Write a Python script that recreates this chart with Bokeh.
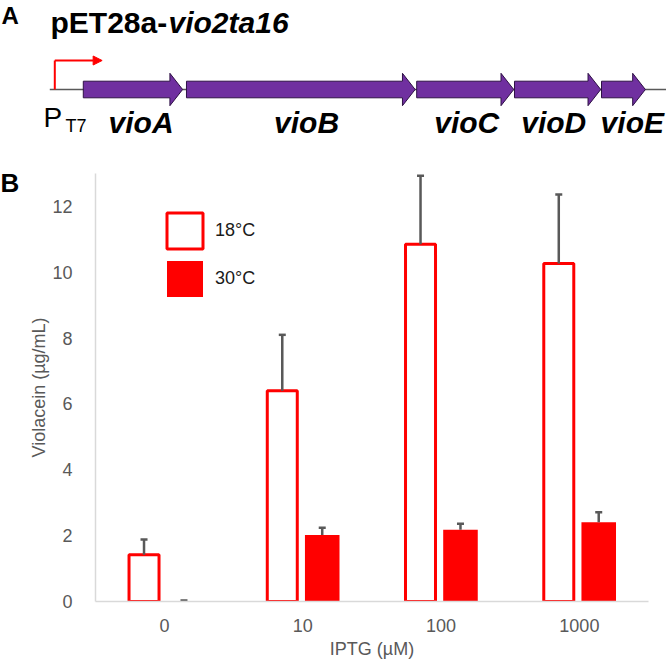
from bokeh.plotting import figure
from bokeh.models import (ColumnDataSource, FactorRange, Range1d, FixedTicker,
                          Label, Arrow, NormalHead)
from bokeh.transform import dodge
from bokeh.layouts import row
from bokeh.embed import file_html
from bokeh.resources import INLINE
from bokeh.core.properties import value

# ---------------- Panel A data (gene map, positions in kb) ----------------
genes = ["vioA", "vioB", "vioC", "vioD", "vioE"]
gene_start_kb = [0.37, 1.71, 4.70, 5.97, 7.10]
gene_end_kb = [1.66, 4.68, 5.96, 7.09, 7.67]
gene_label_kb = [1.12, 3.27, 5.35, 6.48, 7.50]
promoter_kb = 0.0
promoter_tip_kb = 0.615
track_start_kb = -0.065
plasmid_name = "pET28a-"
insert_name = "vio2ta16"
promoter_name = "P"
promoter_sub = "T7"

# ---------------- Panel B data ----------------
iptg = ["0", "10", "100", "1000"]
viol_18 = [1.42, 6.40, 10.85, 10.27]
err_18 = [0.46, 1.70, 2.08, 2.09]
viol_30 = [0.00, 2.02, 2.18, 2.41]
err_30 = [0.03, 0.22, 0.18, 0.30]
y_ticks = [0, 2, 4, 6, 8, 10, 12]
series_labels = ["18°C", "30°C"]

FONT = "Liberation Sans"
GRAY = "#595959"
RED = "#FF0000"
PURPLE = "#7030A0"

# ---------------- Panel A figure ----------------
WA, HA = 666, 160
PX_PER_KB = 77.0
PROM_PX = 54.3
TRACK_PX = 89
xa0 = -PROM_PX / PX_PER_KB
xa1 = (WA - PROM_PX) / PX_PER_KB

pa = figure(width=WA, height=HA, x_range=Range1d(xa0, xa1),
            y_range=Range1d(-(HA - TRACK_PX), TRACK_PX),
            output_backend="svg", toolbar_location=None, min_border=0,
            x_axis_location=None, y_axis_location=None,
            outline_line_color=None, background_fill_color="white")
pa.grid.visible = False

pa.line([track_start_kb, xa1], [0, 0], line_color=GRAY, line_width=1.5)

HEAD_KB = 0.165
BODY = 8.3
HEAD = 16.2
xs, ys = [], []
for s, e in zip(gene_start_kb, gene_end_kb):
    h = e - HEAD_KB
    xs.append([s, h, h, e, h, h, s])
    ys.append([BODY, BODY, HEAD, 0, -HEAD, -BODY, -BODY])
pa.patches(xs, ys, fill_color=PURPLE, line_color="#2E1145", line_width=1)

PROM_H = 29
pa.segment(x0=[promoter_kb], y0=[0], x1=[promoter_kb], y1=[PROM_H],
           line_color=RED, line_width=2)
pa.add_layout(Arrow(end=NormalHead(size=9, fill_color=RED, line_color=RED),
                    x_start=promoter_kb, y_start=PROM_H,
                    x_end=promoter_tip_kb, y_end=PROM_H,
                    line_color=RED, line_width=2))

pa.text(x=gene_label_kb, y=[-32.5] * len(genes), text=genes,
        text_font=value(FONT), text_font_style="bold italic",
        text_font_size="30px", text_align="center",
        text_baseline="middle", text_color="black")

pa.add_layout(Label(x=-0.147, y=-28, text=promoter_name, text_font=FONT,
                    text_font_size="28px", text_baseline="middle",
                    text_color="black"))
pa.add_layout(Label(x=0.139, y=-36.7, text=promoter_sub, text_font=FONT,
                    text_font_size="18px", text_baseline="middle",
                    text_color="black"))

pa.add_layout(Label(x=1, y=74, x_units="screen", text="A", text_font=FONT,
                    text_font_size="24px", text_font_style="bold",
                    text_baseline="middle", text_color="black"))
pa.add_layout(Label(x=-0.056, y=67.5, text=plasmid_name, text_font=FONT,
                    text_font_size="30px", text_font_style="bold",
                    text_baseline="middle", text_color="black"))
pa.add_layout(Label(x=1.477, y=67.5, text=insert_name, text_font=FONT,
                    text_font_size="30px", text_font_style="bold italic",
                    text_baseline="middle", text_color="black"))

# ---------------- Panel B figure ----------------
src = ColumnDataSource(dict(
    iptg=iptg,
    v18=viol_18, t18=[v + e for v, e in zip(viol_18, err_18)],
    v30=viol_30, t30=[v + e for v, e in zip(viol_30, err_30)],
))

HB = 501
WL = 22
y_range_b = Range1d(0, 13)

pbl = figure(width=WL, height=HB, x_range=Range1d(0, 1), y_range=y_range_b,
             output_backend="svg", toolbar_location=None,
             min_border_left=0, min_border_right=0,
             min_border_top=13, min_border_bottom=59,
             x_axis_location=None, y_axis_location=None,
             outline_line_color=None)
pbl.grid.visible = False
pbl.add_layout(Label(x=0, y=12.7, x_units="screen", y_units="data",
                     text="B", text_font=FONT, text_font_size="26px",
                     text_font_style="bold", text_baseline="middle",
                     text_color="black"))

pb = figure(width=666 - WL, height=HB, x_range=FactorRange(factors=iptg),
            y_range=y_range_b, output_backend="svg",
            toolbar_location=None, min_border_left=95 - WL,
            min_border_right=18, min_border_top=13, min_border_bottom=59,
            outline_line_color=None)
pb.xgrid.visible = False
pb.ygrid.visible = False

OFF18, OFF30 = -0.149, 0.14
pb.vbar(x=dodge("iptg", OFF18, range=pb.x_range), top="v18", width=0.217,
        fill_color="white", line_color=RED, line_width=3, source=src,
        legend_label=series_labels[0])
pb.vbar(x=dodge("iptg", OFF30, range=pb.x_range), top="v30", width=0.25,
        fill_color=RED, line_color=None, source=src,
        legend_label=series_labels[1])

for off, v, t in [(OFF18, "v18", "t18"), (OFF30, "v30", "t30")]:
    xd = dodge("iptg", off, range=pb.x_range)
    pb.segment(x0=xd, y0=v, x1=xd, y1=t, source=src,
               line_color=GRAY, line_width=2.5)
    pb.scatter(x=xd, y=t, marker="dash", size=7, line_color=GRAY,
               line_width=2.5, source=src)

pb.yaxis.ticker = FixedTicker(ticks=y_ticks)
for ax in pb.axis:
    ax.axis_line_color = "#D9D9D9"
    ax.axis_line_width = 1.5
    ax.major_tick_line_color = None
    ax.minor_tick_line_color = None
    ax.major_label_text_font = FONT
    ax.major_label_text_font_size = "18px"
    ax.major_label_text_color = GRAY
    ax.axis_label_text_font = FONT
    ax.axis_label_text_font_size = "18px"
    ax.axis_label_text_color = GRAY
    ax.axis_label_text_font_style = "normal"
pb.yaxis.axis_label = "Violacein (µg/mL)"
pb.xaxis.axis_label = "IPTG (µM)"
pb.yaxis.major_label_standoff = 17
pb.xaxis.major_label_standoff = 11
pb.yaxis.axis_label_standoff = 0
pb.xaxis.axis_label_standoff = 4

leg = pb.legend[0]
leg.location = (67, 300)
leg.glyph_width = 45
leg.glyph_height = 45
leg.spacing = 3
leg.padding = 0
leg.margin = 0
leg.label_standoff = 8
leg.border_line_color = None
leg.background_fill_alpha = 0
leg.label_text_font = FONT
leg.label_text_font_size = "18px"
leg.label_text_color = "#1A1A1A"

open("out.html", "w").write(file_html([pa, row(pbl, pb)], INLINE))
